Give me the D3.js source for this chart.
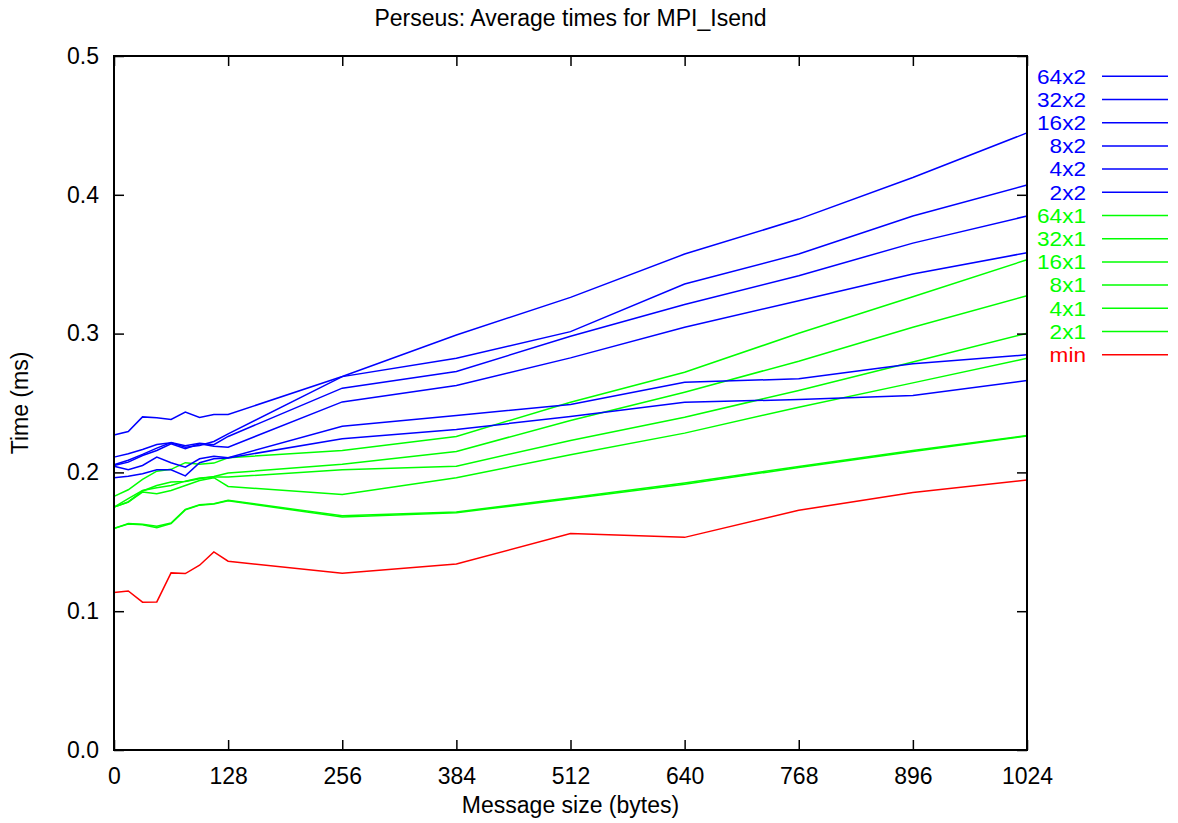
<!DOCTYPE html>
<html>
<head>
<meta charset="utf-8">
<script src="https://cdn.jsdelivr.net/npm/d3@7"></script>
<style>
  html, body { margin: 0; padding: 0; background: #fff; }
  svg text { font-family: "Liberation Sans", Arial, Helvetica, sans-serif; }
</style>
</head>
<body>
<svg id="chart" width="1178" height="823"></svg>
<script>
// Message sizes (bytes) at which timings were taken
const sizes = [0, 16, 32, 48, 64, 80, 96, 112, 128, 256, 384, 512, 640, 768, 896, 1024];

// Average MPI_Isend times (ms), per process layout
const t64x2 = [0.2270, 0.2295, 0.2400, 0.2393, 0.2381, 0.2434, 0.2396, 0.2417, 0.2417, 0.2691, 0.2990, 0.3261, 0.3573, 0.3825, 0.4125, 0.4446];
const t32x2 = [0.2110, 0.2134, 0.2165, 0.2201, 0.2213, 0.2182, 0.2194, 0.2223, 0.2278, 0.2690, 0.2822, 0.3014, 0.3357, 0.3573, 0.3847, 0.4070];
const t16x2 = [0.2055, 0.2088, 0.2130, 0.2175, 0.2215, 0.2192, 0.2210, 0.2200, 0.2259, 0.2607, 0.2727, 0.2981, 0.3209, 0.3417, 0.3652, 0.3847];
const t8x2  = [0.2050, 0.2074, 0.2122, 0.2158, 0.2206, 0.2170, 0.2206, 0.2189, 0.2182, 0.2508, 0.2626, 0.2825, 0.3046, 0.3237, 0.3429, 0.3583];
const t4x2  = [0.2045, 0.2019, 0.2050, 0.2110, 0.2070, 0.2038, 0.2098, 0.2117, 0.2106, 0.2333, 0.2410, 0.2489, 0.2650, 0.2674, 0.2782, 0.2847];
const t2x2  = [0.1962, 0.1973, 0.1990, 0.2019, 0.2019, 0.1975, 0.2070, 0.2098, 0.2104, 0.2242, 0.2309, 0.2403, 0.2506, 0.2525, 0.2554, 0.2662];
const t64x1 = [0.1827, 0.1875, 0.1950, 0.2009, 0.2022, 0.2070, 0.2058, 0.2067, 0.2106, 0.2158, 0.2259, 0.2506, 0.2722, 0.3002, 0.3266, 0.3532];
const t32x1 = [0.1750, 0.1787, 0.1866, 0.1906, 0.1930, 0.1935, 0.1955, 0.1971, 0.1995, 0.2058, 0.2151, 0.2374, 0.2578, 0.2801, 0.3046, 0.3273];
const t16x1 = [0.1750, 0.1811, 0.1870, 0.1890, 0.1906, 0.1937, 0.1959, 0.1966, 0.1966, 0.2019, 0.2045, 0.2230, 0.2398, 0.2590, 0.2796, 0.3002];
const t8x1  = [0.1750, 0.1787, 0.1858, 0.1847, 0.1870, 0.1906, 0.1942, 0.1962, 0.1899, 0.1840, 0.1962, 0.2127, 0.2283, 0.2470, 0.2645, 0.2822];
const t4x1  = [0.1595, 0.1631, 0.1626, 0.1612, 0.1635, 0.1734, 0.1767, 0.1775, 0.1799, 0.1687, 0.1715, 0.1818, 0.1923, 0.2043, 0.2158, 0.2266];
const t2x1  = [0.1598, 0.1628, 0.1622, 0.1602, 0.1632, 0.1730, 0.1764, 0.1772, 0.1795, 0.1679, 0.1710, 0.1810, 0.1915, 0.2035, 0.2150, 0.2262];
const tMin  = [0.1134, 0.1146, 0.1065, 0.1067, 0.1276, 0.1271, 0.1331, 0.1427, 0.1360, 0.1273, 0.1340, 0.1560, 0.1532, 0.1727, 0.1856, 0.1945];

const seriesNames = ["64x2", "32x2", "16x2", "8x2", "4x2", "2x2", "64x1", "32x1", "16x1", "8x1", "4x1", "2x1", "min"];
const seriesValues = [t64x2, t32x2, t16x2, t8x2, t4x2, t2x2, t64x1, t32x1, t16x1, t8x1, t4x1, t2x1, tMin];
const seriesColors = ["#0000ff", "#0000ff", "#0000ff", "#0000ff", "#0000ff", "#0000ff",
                      "#00ff00", "#00ff00", "#00ff00", "#00ff00", "#00ff00", "#00ff00", "#ff0000"];

const xTicks = [0, 128, 256, 384, 512, 640, 768, 896, 1024];
const yTicks = [0.0, 0.1, 0.2, 0.3, 0.4, 0.5];

const W = 1178, H = 823;
const plot = { left: 114, right: 1027, top: 56, bottom: 750 };
const fontSize = 23;
const keyFontSize = 20;

const svg = d3.select("#chart");

const x = d3.scaleLinear().domain([0, 1024]).range([plot.left, plot.right]);
const y = d3.scaleLinear().domain([0, 0.5]).range([plot.bottom, plot.top]);

// Lines first so the frame sits on top of them
const line = d3.line().x((d, i) => x(sizes[i])).y(d => y(d));
// draw from the last key entry upward so the blue series end up on top
const order = d3.range(seriesNames.length).reverse();
svg.append("g").selectAll("path")
  .data(order)
  .join("path")
  .attr("d", i => line(seriesValues[i]))
  .attr("fill", "none")
  .attr("stroke", i => seriesColors[i])
  .attr("stroke-width", 1.5)
  .attr("stroke-linejoin", "miter");

// Axes with inward ticks, mirrored on top and right
const tickLen = 10;
const xAxisB = d3.axisBottom(x).tickValues(xTicks).tickSize(-tickLen).tickPadding(tickLen + 8).tickFormat(d3.format("d"));
const xAxisT = d3.axisTop(x).tickValues(xTicks).tickSize(-tickLen).tickFormat("");
const yAxisL = d3.axisLeft(y).tickValues(yTicks).tickSize(-tickLen).tickPadding(tickLen + 5).tickFormat(d3.format(".1f"));
const yAxisR = d3.axisRight(y).tickValues(yTicks).tickSize(-tickLen).tickFormat("");

function styleAxis(g) {
  g.select(".domain").remove();
  g.selectAll(".tick line").attr("stroke", "#000").attr("stroke-width", 1.5);
  g.selectAll(".tick text").attr("fill", "#000").style("font-size", fontSize + "px");
}

svg.append("g").attr("transform", `translate(0,${plot.bottom})`).call(xAxisB).call(styleAxis);
svg.append("g").attr("transform", `translate(0,${plot.top})`).call(xAxisT).call(styleAxis);
svg.append("g").attr("transform", `translate(${plot.left},0)`).call(yAxisL).call(styleAxis);
svg.append("g").attr("transform", `translate(${plot.right},0)`).call(yAxisR).call(styleAxis);

// Plot frame
svg.append("rect")
  .attr("x", plot.left).attr("y", plot.top)
  .attr("width", plot.right - plot.left).attr("height", plot.bottom - plot.top)
  .attr("fill", "none").attr("stroke", "#000").attr("stroke-width", 2);

// Title and axis labels
const cx = (plot.left + plot.right) / 2;
svg.append("text")
  .attr("x", cx).attr("y", 26)
  .attr("text-anchor", "middle").style("font-size", fontSize + "px")
  .text("Perseus: Average times for MPI_Isend");

svg.append("text")
  .attr("x", cx).attr("y", 813)
  .attr("text-anchor", "middle").style("font-size", fontSize + "px")
  .text("Message size (bytes)");

svg.append("text")
  .attr("transform", `translate(28,${(plot.top + plot.bottom) / 2}) rotate(-90)`)
  .attr("text-anchor", "middle").style("font-size", fontSize + "px")
  .text("Time (ms)");

// Key: labels are widened slightly so the tight row spacing still reads like the axis text
const keyTop = 76.3, keyStep = 23.2;
const key = svg.append("g");
const rows = key.selectAll("g").data(d3.range(seriesNames.length)).join("g")
  .attr("transform", i => `translate(0,${keyTop + i * keyStep})`);
rows.append("text")
  .attr("transform", "translate(1086,0) scale(1.13,1)")
  .attr("x", 0).attr("y", 0).attr("dy", "0.36em")
  .attr("text-anchor", "end")
  .style("font-size", keyFontSize + "px")
  .attr("fill", i => seriesColors[i])
  .text(i => seriesNames[i]);
rows.append("line")
  .attr("x1", 1102).attr("x2", 1168).attr("y1", 0).attr("y2", 0)
  .attr("stroke", i => seriesColors[i]).attr("stroke-width", 1.5);
</script>
</body>
</html>
